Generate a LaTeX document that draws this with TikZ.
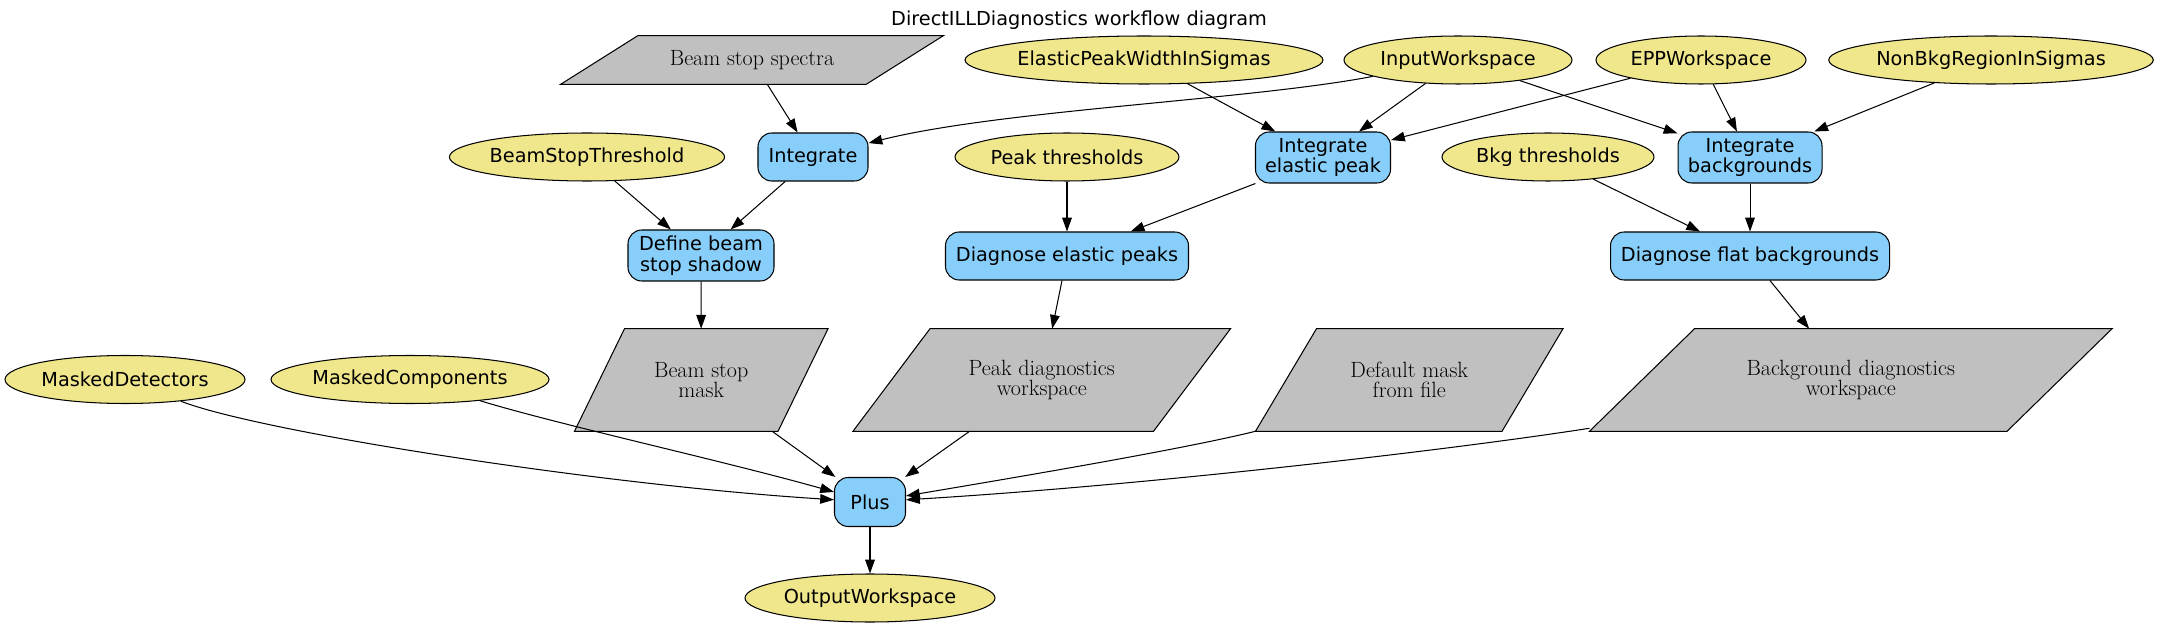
\documentclass[tikz,border=0pt]{standalone}
\usepackage{fontspec}
\newfontfamily\dvsans{DejaVu Sans}
\usetikzlibrary{arrows.meta,calc,backgrounds,shapes.geometric}
\newcommand{\pxu}{0.726pt}
\definecolor{khaki}{HTML}{F0E68C}
\definecolor{skyb}{HTML}{87CEFA}
\definecolor{pgray}{HTML}{C0C0C0}
\begin{document}
\begin{tikzpicture}[x=\pxu,y=-\pxu,
 ell/.style={ellipse, draw, fill=khaki, line width=0.75pt, inner sep=0pt, minimum height=48*\pxu, font=\dvsans\fontsize{14}{15}\selectfont},
 proc/.style={rectangle, rounded corners=10pt, draw, fill=skyb, line width=0.75pt, inner sep=0pt, align=center, font=\dvsans\fontsize{14}{15}\selectfont},
 para/.style={rectangle, inner sep=0pt, align=center, font=\fontsize{16}{14.5}\selectfont},
 parafill/.style={draw, fill=pgray, line width=0.75pt},
 arr/.style={-{Triangle[length=10pt,width=7pt]}, line width=0.75pt},
 ttl/.style={inner sep=0pt, font=\dvsans\fontsize{14}{15}\selectfont},
]
\useasboundingbox (0,0) rectangle (2160,628);

\node[ttl] (title) at (1079,20) {DirectILLDiagnostics workflow diagram};

% top row
\node[para, minimum width=305*\pxu, minimum height=48*\pxu] (bss) at (752,60) {Beam stop spectra};
\node[ell, minimum width=350*\pxu] (epw) at (1144,60) {ElasticPeakWidthInSigmas};
\node[ell, minimum width=228*\pxu] (iw) at (1458,60) {InputWorkspace};
\node[ell, minimum width=210*\pxu] (epp) at (1701,60) {EPPWorkspace};
\node[ell, minimum width=324*\pxu] (nbr) at (1991,60) {NonBkgRegionInSigmas};

% second row
\node[ell, minimum width=266*\pxu] (bst) at (587,157) {BeamStopThreshold};
\node[proc, minimum width=110*\pxu, minimum height=48*\pxu] (int) at (813,157) {Integrate};
\node[ell, minimum width=224*\pxu] (pt) at (1067,157) {Peak thresholds};
\node[proc, minimum width=135*\pxu, minimum height=51*\pxu] (ie) at (1323,157.5) {Integrate\\elastic peak};
\node[ell, minimum width=212*\pxu] (bt) at (1548,157) {Bkg thresholds};
\node[proc, minimum width=144*\pxu, minimum height=51*\pxu] (ib) at (1750,157.5) {Integrate\\backgrounds};

% third row
\node[proc, minimum width=146*\pxu, minimum height=51*\pxu] (dbs) at (701,255.5) {Define beam\\stop shadow};
\node[proc, minimum width=243*\pxu, minimum height=48*\pxu] (de) at (1067,256) {Diagnose elastic peaks};
\node[proc, minimum width=279*\pxu, minimum height=48*\pxu] (df) at (1750,256) {Diagnose flat backgrounds};

% fourth row
\node[ell, minimum width=240*\pxu] (md) at (125,379.5) {MaskedDetectors};
\node[ell, minimum width=278*\pxu] (mc) at (410,379.5) {MaskedComponents};
\node[para, minimum width=203*\pxu, minimum height=102*\pxu] (bsm) at (701.25,380) {Beam stop\\mask};
\node[para, minimum width=300*\pxu, minimum height=102*\pxu] (pd) at (1041.75,380) {Peak diagnostics\\workspace};
\node[para, minimum width=246*\pxu, minimum height=102*\pxu] (dm) at (1409.25,380) {Default mask\\from file};
\node[para, minimum width=417*\pxu, minimum height=102*\pxu] (bd) at (1850.75,380) {Background diagnostics\\workspace};

% bottom
\node[proc, minimum width=71*\pxu, minimum height=49*\pxu] (plus) at (870,502) {Plus};
\node[ell, minimum width=250*\pxu] (ow) at (870,598) {OutputWorkspace};

\coordinate (dmBL) at ($(dm.south west)+(-30.5,0)$);
\coordinate (bdBL) at ($(bd.south west)+(-52.5,-3)$);

\begin{scope}[on background layer]
\fill[white] (0,0) rectangle (2160,628);
\foreach \n/\s in {bss/38.5, bsm/25, pd/38.5, dm/30.5, bd/52.5} {
 \draw[parafill] ($(\n.north west)+(\s,0)$) -- ($(\n.north east)+(\s,0)$) -- ($(\n.south east)+(-\s,0)$) -- ($(\n.south west)+(-\s,0)$) -- cycle;
}
\end{scope}

% edges
\draw[arr] (bss) -- (int);
\draw[arr] (iw) .. controls (1250,100) and (1000,110) .. (int);
\draw[arr] (epw) -- (ie);
\draw[arr] (iw) -- (ie);
\draw[arr] (epp) -- (ie);
\draw[arr] (iw) -- (ib);
\draw[arr] (epp) -- (ib);
\draw[arr] (nbr) -- (ib);
\draw[arr] (bst) -- (dbs);
\draw[arr] (int) -- (dbs);
\draw[arr] (pt) -- (de);
\draw[arr] (ie) -- (de);
\draw[arr] (bt) -- (df);
\draw[arr] (ib) -- (df);
\draw[arr] (dbs) -- (bsm);
\draw[arr] (de) -- (pd);
\draw[arr] (df) -- (bd);
\draw[arr] (md) .. controls (260,432) and (600,485) .. (plus);
\draw[arr] (mc) .. controls (560,425) and (720,460) .. (plus);
\draw[arr] (bsm) -- (plus);
\draw[arr] (pd) -- (plus);
\draw[arr] (dmBL) .. controls (1180,450) and (1000,480) .. (plus);
\draw[arr] (bdBL) .. controls (1450,450) and (1150,485) .. (plus);
\draw[arr] (plus) -- (ow);
\end{tikzpicture}
\end{document}
